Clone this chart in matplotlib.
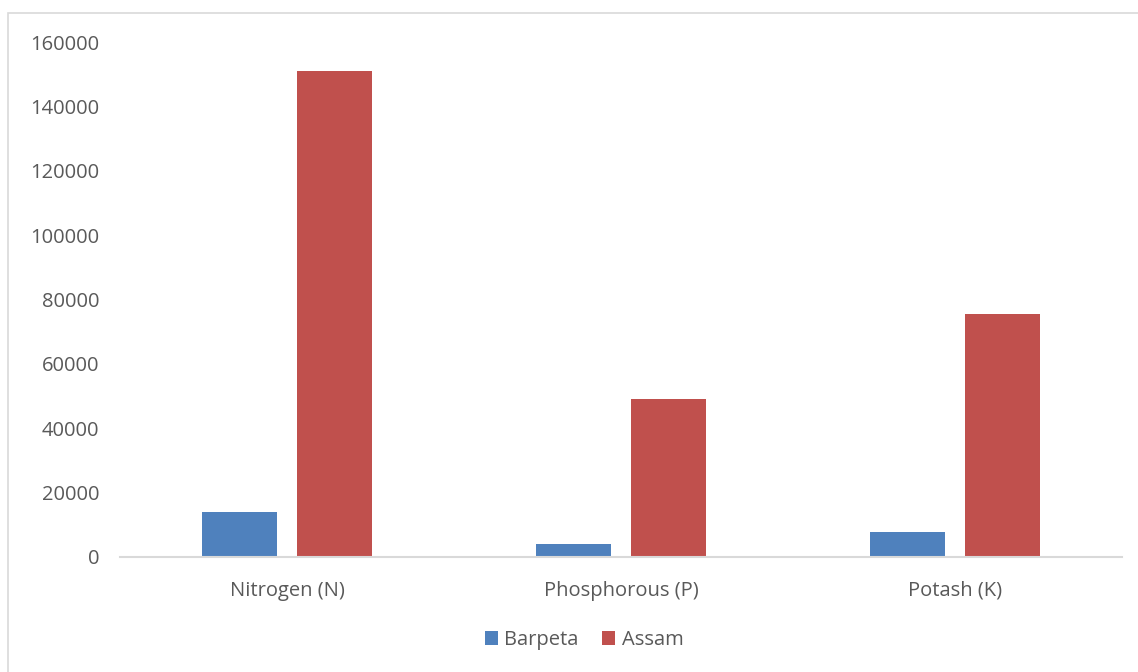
import matplotlib
matplotlib.use("Agg")
import matplotlib.pyplot as plt
import numpy as np
from matplotlib.patches import Rectangle

categories = ["Nitrogen (N)", "Phosphorous (P)", "Potash (K)"]
barpeta = [13900, 4000, 7800]
assam = [151000, 49000, 75400]
yticks = [0, 20000, 40000, 60000, 80000, 100000, 120000, 140000, 160000]

W, H = 1138, 672
plt.rcParams['font.family'] = ['Open Sans', 'DejaVu Sans']
fig = plt.figure(figsize=(W / 100, H / 100), dpi=100)
left, right, bottom, top = 120, 1122, 557, 42
ax = fig.add_axes([left / W, 1 - bottom / H, (right - left) / W, (bottom - top) / H])

x = np.arange(len(categories))
bw = 0.2245
off = 0.142
blue = "#4F81BD"
red = "#C0504D"
ax.bar(x - off, barpeta, width=bw, color=blue, label="Barpeta")
ax.bar(x + off, assam, width=bw, color=red, label="Assam")

ax.set_xlim(-0.5, 2.5)
ax.set_ylim(0, 160000)
ax.set_yticks(yticks)
ax.set_yticklabels([str(v) for v in yticks])
ax.set_xticks(x)
ax.set_xticklabels(categories)
txtc = "#595959"
fs = 14.5
ax.tick_params(axis='y', length=0, pad=15, labelsize=fs, labelcolor=txtc)
ax.tick_params(axis='x', length=0, pad=17, labelsize=fs, labelcolor=txtc)
for s in ["top", "right", "left"]:
    ax.spines[s].set_visible(False)
ax.spines["bottom"].set_color("#D9D9D9")
ax.spines["bottom"].set_linewidth(1.5)

leg = fig.legend(loc="center", bbox_to_anchor=(584 / W, 1 - 640 / H), ncol=2, frameon=False,
                 fontsize=fs, handlelength=0.65, handleheight=0.65, handletextpad=0.3,
                 columnspacing=1.2)
for t in leg.get_texts():
    t.set_color(txtc)

fig.patches.append(Rectangle((8 / W, -0.1), 1.2, 1 - 13 / H + 0.1, transform=fig.transFigure,
                             fill=False, edgecolor="#D9D9D9", linewidth=1.2))

fig.savefig("out.png", dpi=100)
